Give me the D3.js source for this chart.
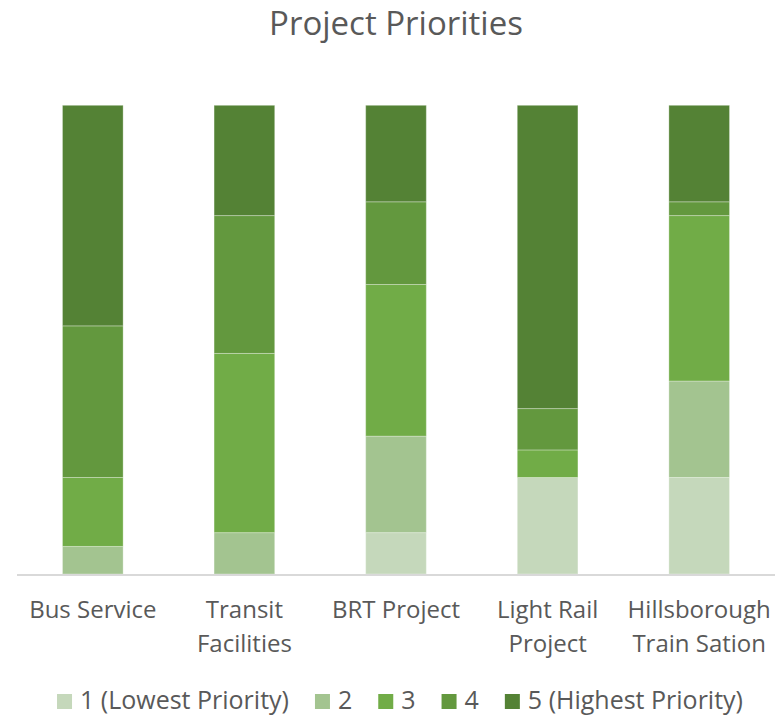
<!DOCTYPE html>
<html>
<head>
<meta charset="utf-8">
<script src="https://cdn.jsdelivr.net/npm/d3@7"></script>
<style>
  html, body { margin: 0; padding: 0; background: #fff; }
  svg { display: block; font-family: "Open Sans", "Noto Sans", sans-serif; }
</style>
</head>
<body>
<svg id="chart" width="778" height="717"></svg>
<script>
// ---- data (counts of responses per priority level, 34 respondents) ----
const categories = ["Bus Service", "Transit Facilities", "BRT Project", "Light Rail Project", "Hillsborough Train Sation"];
const seriesNames = ["1 (Lowest Priority)", "2", "3", "4", "5 (Highest Priority)"];
const p1 = [0, 0, 3, 7, 7];
const p2 = [2, 3, 7, 0, 7];
const p3 = [5, 13, 11, 2, 12];
const p4 = [11, 10, 6, 3, 1];
const p5 = [16, 8, 7, 22, 7];
const seriesColors = ["#c5d8bb", "#a3c490", "#71ac47", "#63983e", "#548235"];
const chartTitle = "Project Priorities";

const seriesValues = [p1, p2, p3, p4, p5];
const rows = categories.map((c, i) => {
  const r = { category: c };
  seriesNames.forEach((s, k) => r[s] = seriesValues[k][i]);
  return r;
});

const svg = d3.select("#chart");
const plot = { left: 17, right: 775, top: 105.3, bottom: 574 };
const textColor = "#595959";

const x = d3.scaleBand().domain(categories).range([plot.left, plot.right])
  .paddingInner(0.6).paddingOuter(0.3);
const y = d3.scaleLinear().domain([0, 1]).range([plot.bottom, plot.top]);
const color = d3.scaleOrdinal().domain(seriesNames).range(seriesColors);

const stacked = d3.stack().keys(seriesNames).offset(d3.stackOffsetExpand)(rows);

// title
svg.append("text")
  .attr("x", (plot.left + plot.right) / 2)
  .attr("y", 35)
  .attr("text-anchor", "middle")
  .attr("fill", textColor)
  .style("font-size", "33px")
  .text(chartTitle);

// bars
const g = svg.append("g");
g.selectAll("g.series").data(stacked).join("g")
  .attr("class", "series")
  .attr("fill", d => color(d.key))
  .selectAll("rect").data(d => d).join("rect")
  .attr("x", d => x(d.data.category))
  .attr("width", x.bandwidth())
  .attr("y", d => y(d[1]))
  .attr("height", d => Math.max(0, y(d[0]) - y(d[1])))
  .attr("stroke", "#ffffff")
  .attr("stroke-opacity", d => (y(d[0]) - y(d[1])) > 0 ? 0.3 : 0)
  .attr("stroke-width", 1);

// x axis
const xAxis = d3.axisBottom(x).tickSize(0).tickPadding(0);
const ax = svg.append("g").attr("transform", `translate(0,${plot.bottom + 1})`).call(xAxis);
ax.select(".domain").attr("stroke", "#d9d9d9").attr("stroke-width", 2)
  .attr("d", `M${plot.left},0H${plot.right}`);
ax.selectAll(".tick text")
  .attr("fill", textColor)
  .style("font-size", "24px")
  .style("font-family", "\"Open Sans\", \"Noto Sans\", sans-serif")
  .attr("y", 0).attr("dy", null)
  .each(function(d) {
    const t = d3.select(this);
    const words = d.split(" ");
    const maxW = x.step() - 4;
    t.text(null);
    let lines = [], cur = [];
    const probe = t.append("tspan");
    words.forEach(w => {
      const trial = cur.concat([w]).join(" ");
      probe.text(trial);
      if (probe.node().getComputedTextLength() > maxW && cur.length) {
        lines.push(cur.join(" "));
        cur = [w];
      } else cur.push(w);
    });
    lines.push(cur.join(" "));
    probe.remove();
    lines.forEach((ln, i) => {
      t.append("tspan").attr("x", 0).attr("y", 43 + i * 34).text(ln);
    });
  });

// legend
const legend = svg.append("g").attr("class", "legend");
const sq = 15, gapText = 8, gapItem = 26, legendBaseline = 709;
let cx = 0;
const items = legend.selectAll("g").data(seriesNames).join("g");
items.append("rect").attr("width", sq).attr("height", sq).attr("y", legendBaseline - sq)
  .attr("fill", d => color(d));
items.append("text").attr("x", sq + gapText).attr("y", legendBaseline)
  .attr("fill", textColor).style("font-size", "25px").text(d => d);
items.each(function() {
  const it = d3.select(this);
  it.attr("transform", `translate(${cx},0)`);
  const tw = it.select("text").node().getComputedTextLength();
  cx += sq + gapText + tw + gapItem;
});
const totalW = cx - gapItem;
legend.attr("transform", `translate(${400 - totalW / 2},0)`);
</script>
</body>
</html>
